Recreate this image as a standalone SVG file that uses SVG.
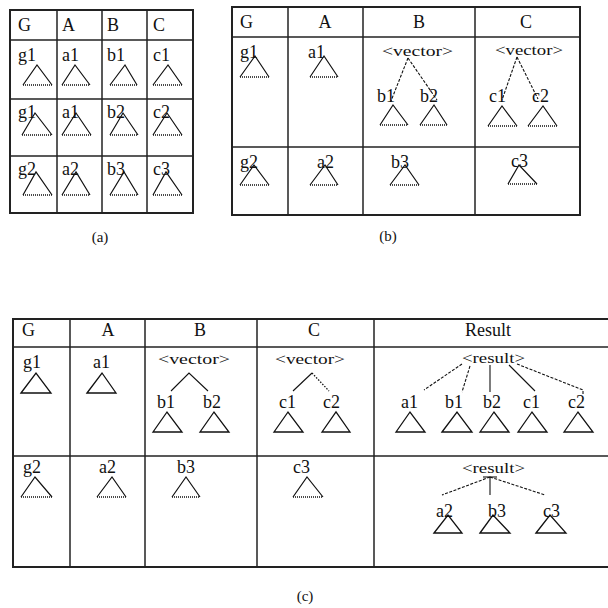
<svg xmlns="http://www.w3.org/2000/svg" width="608" height="608" viewBox="0 0 608 608">
<style>
.bg{fill:#fff}
.out{fill:none;stroke:#222;stroke-width:2}
.grid{stroke:#222;stroke-width:1.5}
.t{font-family:"Liberation Serif",serif;font-size:18px;fill:#111}
.s{font-family:"Liberation Serif",serif;font-size:14px;fill:#111}
.cap{font-family:"Liberation Serif",serif;font-size:15px;fill:#111}
.side{fill:none;stroke:#111;stroke-width:1.2}
.dot{stroke:#111;stroke-width:1.5;stroke-dasharray:1 1}
.tri{fill:none;stroke:#111;stroke-width:1.3}
.e{stroke:#111;stroke-width:1.1;fill:none}
.ed{stroke:#111;stroke-width:1.1;stroke-dasharray:3 1.5;fill:none}
.ep{stroke:#111;stroke-width:1.3;stroke-dasharray:1.5 1.5;fill:none}
</style>
<rect class="bg" x="0" y="0" width="608" height="608"/>

<!-- ===== Table (a) ===== -->
<g id="table-a">
<rect class="out" x="10" y="10" width="183" height="203"/>
<line class="grid" x1="57" y1="10" x2="57" y2="213"/>
<line class="grid" x1="102" y1="10" x2="102" y2="213"/>
<line class="grid" x1="147" y1="10" x2="147" y2="213"/>
<line class="grid" x1="10" y1="40" x2="193" y2="40"/>
<line class="grid" x1="10" y1="99" x2="193" y2="99"/>
<line class="grid" x1="10" y1="156" x2="193" y2="156"/>
<text class="t" x="18" y="31">G</text>
<text class="t" x="62" y="31">A</text>
<text class="t" x="107" y="31">B</text>
<text class="t" x="153" y="31">C</text>
</g>
<g id="a-g1"><text class="t" x="18" y="61">g1</text><path class="side" d="M23 85 L37 65 L52 85"/><line class="dot" x1="23" y1="85" x2="52" y2="85"/></g>
<g id="a-a1"><text class="t" x="62" y="61">a1</text><path class="side" d="M62 85 L75 65 L90 85"/><line class="dot" x1="62" y1="85" x2="90" y2="85"/></g>
<g id="a-b1"><text class="t" x="107" y="61">b1</text><path class="side" d="M110 85 L125 65 L137 85"/><line class="dot" x1="110" y1="85" x2="137" y2="85"/></g>
<g id="a-c1"><text class="t" x="153" y="61">c1</text><path class="side" d="M153 85 L168 65 L182 85"/><line class="dot" x1="153" y1="85" x2="182" y2="85"/></g>
<g id="a-g1b"><text class="t" x="18" y="118">g1</text><path class="side" d="M22 135 L35 113 L52 135"/><line class="dot" x1="22" y1="135" x2="52" y2="135"/></g>
<g id="a-a1b"><text class="t" x="62" y="118">a1</text><path class="side" d="M62 135 L76 113 L91 135"/><line class="dot" x1="62" y1="135" x2="91" y2="135"/></g>
<g id="a-b2"><text class="t" x="107" y="118">b2</text><path class="side" d="M110 135 L123 113 L138 135"/><line class="dot" x1="110" y1="135" x2="138" y2="135"/></g>
<g id="a-c2"><text class="t" x="153" y="118">c2</text><path class="side" d="M153 135 L167 113 L182 135"/><line class="dot" x1="153" y1="135" x2="182" y2="135"/></g>
<g id="a-g2"><text class="t" x="18" y="175">g2</text><path class="side" d="M23 195 L36 172 L52 195"/><line class="dot" x1="23" y1="195" x2="52" y2="195"/></g>
<g id="a-a2"><text class="t" x="62" y="175">a2</text><path class="side" d="M62 195 L76 172 L90 195"/><line class="dot" x1="62" y1="195" x2="90" y2="195"/></g>
<g id="a-b3"><text class="t" x="107" y="175">b3</text><path class="side" d="M110 195 L124 172 L138 195"/><line class="dot" x1="110" y1="195" x2="138" y2="195"/></g>
<g id="a-c3"><text class="t" x="153" y="175">c3</text><path class="side" d="M153 195 L166 172 L182 195"/><line class="dot" x1="153" y1="195" x2="182" y2="195"/></g>
<text class="cap" x="100" y="242" text-anchor="middle">(a)</text>

<!-- ===== Table (b) ===== -->
<g id="table-b">
<rect class="out" x="232" y="7" width="348" height="208"/>
<line class="grid" x1="288" y1="7" x2="288" y2="215"/>
<line class="grid" x1="363" y1="7" x2="363" y2="215"/>
<line class="grid" x1="475" y1="7" x2="475" y2="215"/>
<line class="grid" x1="232" y1="37" x2="580" y2="37"/>
<line class="grid" x1="232" y1="147" x2="580" y2="147"/>
<text class="t" x="240" y="28">G</text>
<text class="t" x="325" y="28" text-anchor="middle">A</text>
<text class="t" x="419" y="28" text-anchor="middle">B</text>
<text class="t" x="526" y="28" text-anchor="middle">C</text>
</g>
<g id="b-g1"><text class="t" x="240" y="58">g1</text><path class="side" d="M240 77 L255 56 L269 77"/><line class="dot" x1="240" y1="77" x2="269" y2="77"/></g>
<g id="b-a1"><text class="t" x="308" y="58">a1</text><path class="side" d="M310 77 L324 56 L338 77"/><line class="dot" x1="310" y1="77" x2="338" y2="77"/></g>
<g id="b-vecB"><text class="s" x="382" y="56" textLength="71" lengthAdjust="spacingAndGlyphs">&lt;vector&gt;</text></g>
<g id="b-b1"><text class="t" x="377" y="102">b1</text><path class="side" d="M380 125 L393 105 L408 125"/><line class="dot" x1="380" y1="125" x2="408" y2="125"/></g>
<g id="b-b2"><text class="t" x="420" y="102">b2</text><path class="side" d="M420 125 L434 105 L447 125"/><line class="dot" x1="420" y1="125" x2="447" y2="125"/></g>
<g id="b-vecC"><text class="s" x="495" y="55" textLength="68" lengthAdjust="spacingAndGlyphs">&lt;vector&gt;</text></g>
<g id="b-c1"><text class="t" x="489" y="102">c1</text><path class="side" d="M488 126 L502 106 L517 126"/><line class="dot" x1="488" y1="126" x2="517" y2="126"/></g>
<g id="b-c2"><text class="t" x="532" y="102">c2</text><path class="side" d="M528 126 L543 106 L557 126"/><line class="dot" x1="528" y1="126" x2="557" y2="126"/></g>
<g id="b-g2"><text class="t" x="240" y="168">g2</text><path class="side" d="M240 185 L254 165 L269 185"/><line class="dot" x1="240" y1="185" x2="269" y2="185"/></g>
<g id="b-a2"><text class="t" x="317" y="168">a2</text><path class="side" d="M310 185 L325 165 L338 185"/><line class="dot" x1="310" y1="185" x2="338" y2="185"/></g>
<g id="b-b3"><text class="t" x="391" y="168">b3</text><path class="side" d="M390 185 L405 165 L419 185"/><line class="dot" x1="390" y1="185" x2="419" y2="185"/></g>
<g id="b-c3"><text class="t" x="511" y="167">c3</text><path class="side" d="M508 184 L519 165 L537 184"/><line class="dot" x1="508" y1="184" x2="537" y2="184"/></g>
<text class="cap" x="388" y="241" text-anchor="middle">(b)</text>

<!-- ===== Table (c) ===== -->
<g id="table-c">
<path class="out" d="M612 319 L13 319 L13 567 L612 567"/>
<line class="grid" x1="70" y1="319" x2="70" y2="567"/>
<line class="grid" x1="145" y1="319" x2="145" y2="567"/>
<line class="grid" x1="257" y1="319" x2="257" y2="567"/>
<line class="grid" x1="374" y1="319" x2="374" y2="567"/>
<line class="grid" x1="13" y1="347" x2="612" y2="347"/>
<line class="grid" x1="13" y1="456" x2="612" y2="456"/>
<text class="t" x="22" y="336">G</text>
<text class="t" x="108" y="336" text-anchor="middle">A</text>
<text class="t" x="200" y="336" text-anchor="middle">B</text>
<text class="t" x="314" y="336" text-anchor="middle">C</text>
<text class="t" x="488" y="336" text-anchor="middle">Result</text>
</g>
<g id="c-g1"><text class="t" x="23" y="368">g1</text><polygon class="tri" points="21,393 36,373 51,393"/></g>
<g id="c-a1"><text class="t" x="93" y="368">a1</text><polygon class="tri" points="87,393 102,373 116,393"/></g>
<g id="c-vecB"><text class="s" x="158" y="364" textLength="72" lengthAdjust="spacingAndGlyphs">&lt;vector&gt;</text></g>
<g id="c-b1"><text class="t" x="157" y="408">b1</text><polygon class="tri" points="153,432 167,412 182,432"/></g>
<g id="c-b2"><text class="t" x="203" y="408">b2</text><polygon class="tri" points="200,432 214,412 229,432"/></g>
<g id="c-vecC"><text class="s" x="275" y="364" textLength="70" lengthAdjust="spacingAndGlyphs">&lt;vector&gt;</text></g>
<g id="c-c1"><text class="t" x="279" y="408">c1</text><polygon class="tri" points="274,432 288,412 303,432"/></g>
<g id="c-c2"><text class="t" x="323" y="408">c2</text><polygon class="tri" points="322,432 336,412 350,432"/></g>
<g id="c-res1"><text class="s" x="462" y="363" textLength="63" lengthAdjust="spacingAndGlyphs">&lt;result&gt;</text></g>
<g id="c-ra1"><text class="t" x="401" y="408">a1</text><polygon class="tri" points="396,432 410,412 425,432"/></g>
<g id="c-rb1"><text class="t" x="445" y="408">b1</text><polygon class="tri" points="442,432 457,412 472,432"/></g>
<g id="c-rb2"><text class="t" x="483" y="408">b2</text><polygon class="tri" points="480,432 494,412 509,432"/></g>
<g id="c-rc1"><text class="t" x="523" y="408">c1</text><polygon class="tri" points="518,432 532,412 547,432"/></g>
<g id="c-rc2"><text class="t" x="568" y="408">c2</text><polygon class="tri" points="564,432 578,412 593,432"/></g>
<g id="c-g2"><text class="t" x="23" y="473">g2</text><path class="side" d="M21 497 L35 477 L52 497"/><line class="dot" x1="21" y1="497" x2="52" y2="497"/></g>
<g id="c-a2"><text class="t" x="99" y="473">a2</text><path class="side" d="M97 497 L112 477 L126 497"/><line class="dot" x1="97" y1="497" x2="126" y2="497"/></g>
<g id="c-b3"><text class="t" x="177" y="473">b3</text><path class="side" d="M172 497 L186 477 L200 497"/><line class="dot" x1="172" y1="497" x2="200" y2="497"/></g>
<g id="c-c3"><text class="t" x="293" y="473">c3</text><path class="side" d="M293 497 L307 477 L323 497"/><line class="dot" x1="293" y1="497" x2="323" y2="497"/></g>
<g id="c-res2"><text class="s" x="462" y="473" textLength="63" lengthAdjust="spacingAndGlyphs">&lt;result&gt;</text></g>
<g id="c-ra2"><text class="t" x="436" y="517">a2</text><polygon class="tri" points="434,533 448,515 462,533"/></g>
<g id="c-rb3"><text class="t" x="488" y="517">b3</text><polygon class="tri" points="480,533 493,515 510,533"/></g>
<g id="c-rc3"><text class="t" x="543" y="517">c3</text><polygon class="tri" points="536,533 550,515 566,533"/></g>
<text class="cap" x="305" y="601" text-anchor="middle">(c)</text>

<!-- ===== Connectors ===== -->
<g id="connectors">
<line class="ed" x1="408" y1="58" x2="391" y2="101"/>
<line class="ed" x1="408" y1="58" x2="437" y2="100"/>
<line class="ed" x1="517" y1="57" x2="502" y2="100"/>
<line class="ed" x1="517" y1="57" x2="538" y2="99"/>
<path class="e" d="M171 391 L189 373 L208 391"/>
<line class="e" x1="293" y1="391" x2="312" y2="373"/>
<line class="ep" x1="312" y1="373" x2="329" y2="391"/>
<line class="ed" x1="462" y1="364" x2="424" y2="390"/>
<line class="ed" x1="470" y1="366" x2="462" y2="392"/>
<line class="e" x1="490" y1="365" x2="490" y2="392"/>
<line class="e" x1="509" y1="365" x2="535" y2="391"/>
<path class="ed" d="M517 364 L583 390 L583 395"/>
<line class="ed" x1="490" y1="477" x2="442" y2="495"/>
<line class="e" x1="490" y1="477" x2="490" y2="495"/>
<line class="ed" x1="490" y1="477" x2="545" y2="495"/>
<line class="e" x1="483" y1="477" x2="497" y2="477"/>
</g>
</svg>
